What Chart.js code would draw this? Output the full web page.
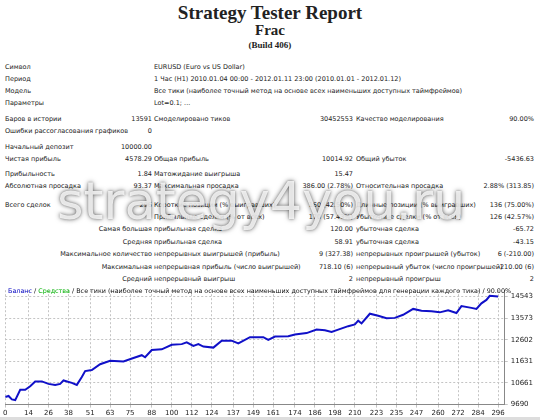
<!DOCTYPE html>
<html><head><meta charset="utf-8">
<script src="https://cdn.jsdelivr.net/npm/chart.js@4"></script>
<style>
body{margin:0;width:540px;height:420px;background:#fff;position:relative;overflow:hidden;font-family:"DejaVu Sans",sans-serif;font-size:6.5px;color:#222}
.t{position:absolute;white-space:nowrap;line-height:10px}
h1,h2,h3{position:absolute;left:0;width:540px;text-align:center;margin:0;font-family:"Liberation Serif",serif;font-weight:bold}
#wm{position:absolute;left:57px;top:172px;font:51px/60px "DejaVu Sans",sans-serif;color:rgba(255,255,255,0.82);text-shadow:0 0 5px rgba(0,0,0,0.55),0 0 2px rgba(0,0,0,0.3)}
#box{position:absolute;left:2px;top:283px;width:536px;height:135px}
#leg{position:absolute;left:8px;top:287px;font-size:6.4px;color:#111;white-space:nowrap}
</style></head><body>
<h1 style="top:2px;font-size:19px">Strategy Tester Report</h1>
<h2 style="top:22px;font-size:15px">Frac</h2>
<h3 style="top:40px;font-size:9px">(Build 406)</h3>
<div id="rows"></div>
<div id="wm">strategy4you.ru</div>
<div id="box"><canvas id="c"></canvas></div>
<div id="leg"><span style="color:#0000c0">Баланс</span> / <span style="color:#00b000">Средства</span> / Все тики (наиболее точный метод на основе всех наименьших доступных таймфреймов для генерации каждого тика) / 90.00%</div>
<div style="position:absolute;left:0;top:417px;width:540px;height:3px;background:#ddd"></div>
<script>
// report rows: [y, label1, value1, label2, value2, label3, value3]
const rows = [
  [62, 'Символ', '', 'EURUSD (Euro vs US Dollar)'],
  [74, 'Период', '', '1 Час (H1) 2010.01.04 00:00 - 2012.01.11 23:00 (2010.01.01 - 2012.01.12)'],
  [86, 'Модель', '', 'Все тики (наиболее точный метод на основе всех наименьших доступных таймфреймов)'],
  [98, 'Параметры', '', 'Lot=0.1; ...'],
  [114, 'Баров в истории', '13591', 'Смоделировано тиков', '30452553', 'Качество моделирования', '90.00%'],
  [126, 'Ошибки рассогласования графиков', '0'],
  [142, 'Начальный депозит', '10000.00'],
  [154, 'Чистая прибыль', '4578.29', 'Общая прибыль', '10014.92', 'Общий убыток', '-5436.63'],
  [169, 'Прибыльность', '1.84', 'Матожидание выигрыша', '15.47'],
  [181, 'Абсолютная просадка', '93.37', 'Максимальная просадка', '386.00 (2.78%)', 'Относительная просадка', '2.88% (313.85)'],
  [200, 'Всего сделок', '296', 'Короткие позиции (% выигравших)', '160 (42.50%)', 'Длинные позиции (% выигравших)', '136 (75.00%)'],
  [212, '', '', 'Прибыльные сделки (% от всех)', '170 (57.43%)', 'Убыточные сделки (% от всех)', '126 (42.57%)'],
  [224, '', 'Самая большая', 'прибыльная сделка', '120.00', 'убыточная сделка', '-65.72'],
  [237, '', 'Средняя', 'прибыльная сделка', '58.91', 'убыточная сделка', '-43.15'],
  [249, '', 'Максимальное количество', 'непрерывных выигрышей (прибыль)', '9 (327.38)', 'непрерывных проигрышей (убыток)', '6 (-210.00)'],
  [262, '', 'Максимальная', 'непрерывная прибыль (число выигрышей)', '718.10 (6)', 'непрерывный убыток (число проигрышей)', '-210.00 (6)'],
  [274, '', 'Средний', 'непрерывный выигрыш', '2', 'непрерывный проигрыш', '2']
];
const cols = [[5, 'l'], [152, 'r'], [154, 'l'], [353, 'r'], [356, 'l'], [534, 'r']];
let html = '';
rows.forEach(r => {
  for (let i = 1; i < r.length; i++) {
    if (!r[i]) continue;
    const [x, a] = cols[i - 1];
    const pos = a === 'l' ? 'left:' + x + 'px' : 'right:' + (540 - x) + 'px';
    html += '<div class="t" style="top:' + r[0] + 'px;' + pos + '">' + r[i] + '</div>';
  }
});
document.getElementById('rows').innerHTML = html;

// balance curve
const tradeNo = [0,2,4,6,9,12,15,18,22,26,30,33,35,40,43,46,48,52,57,63,71,77,82,84,88,94,100,106,109,113,116,119,125,130,136,140,147,155,158,162,170,174,181,187,192,196,200,206,210,212,214,219,224,229,234,239,245,250,256,261,266,271,274,280,283,286,289,291,296];
const balance = [10031,10078,9923,9892,10356,10356,10512,10730,10730,10620,10574,10620,10775,10667,10574,10930,11193,11240,11503,11659,11628,11783,11907,11814,12139,12170,12372,12403,12480,12325,12403,12294,12248,12558,12558,12434,12713,12713,12589,12744,12759,12837,12899,13054,13023,12945,13054,13209,13287,13457,13333,13767,13674,13565,13581,13720,13984,13906,13875,13829,13922,13798,14108,14030,13984,14232,14387,14572,14543];
const xTicks = [0,14,26,38,51,63,75,88,100,112,124,137,149,161,174,186,198,210,223,235,247,260,272,284,296];
const yTicks = [9690,10661,11631,12602,13573,14543];

new Chart(document.getElementById('c'), {
  type: 'line',
  data: {
    datasets: [{
      data: tradeNo.map((t, i) => ({x: t, y: balance[i]})),
      borderColor: '#1010c8', borderWidth: 2, pointRadius: 0, tension: 0
    }]
  },
  options: {
    responsive: true, maintainAspectRatio: false, animation: false,
    layout: {padding: {left: 2, right: 2, top: 2, bottom: 0}},
    plugins: {legend: {display: false}, tooltip: {enabled: false}},
    scales: {
      x: {
        type: 'linear', min: 0, max: 300,
        afterBuildTicks: s => { s.ticks = xTicks.map(v => ({value: v})); },
        ticks: {font: {size: 7, family: 'DejaVu Sans'}, color: '#222', maxRotation: 0, autoSkip: false, padding: 1, callback: v => String(v)},
        grid: {color: '#c4c4c4', tickLength: 3},
        border: {color: '#888', dash: [2, 2]}
      },
      y: {
        position: 'right', min: 9690, max: 14543 + 280,
        afterBuildTicks: s => { s.ticks = yTicks.map(v => ({value: v})); },
        ticks: {font: {size: 7, family: 'DejaVu Sans'}, color: '#222', padding: 3, callback: v => String(v)},
        grid: {color: '#c4c4c4', tickLength: 3},
        border: {color: '#888', dash: [2, 2]}
      }
    }
  }
});
</script>
</body></html>
